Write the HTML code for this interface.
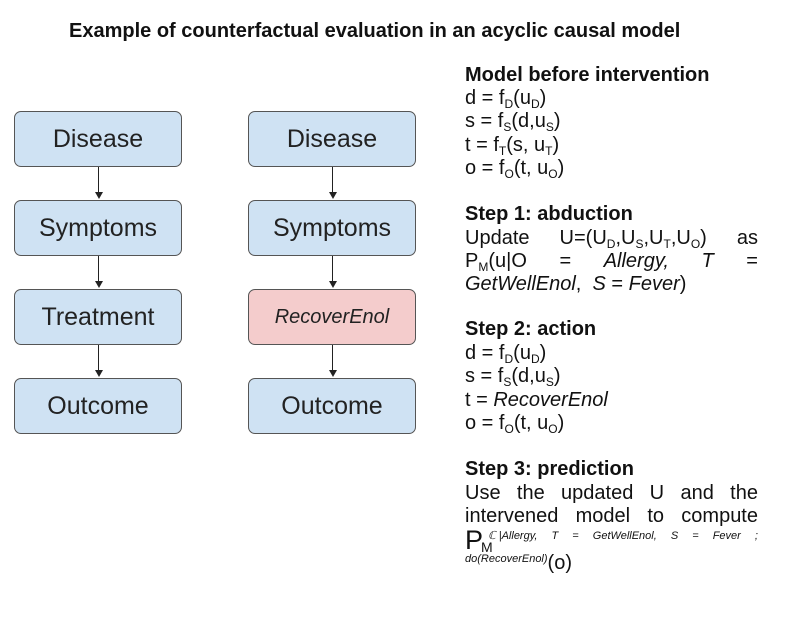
<!DOCTYPE html>
<html><head><style>
body{margin:0;width:799px;height:627px;background:#fff;position:relative;font-family:"Liberation Sans",sans-serif;color:#111;overflow:hidden}
.t{position:absolute;left:69px;top:20px;font-weight:bold;font-size:20px;white-space:nowrap}
.b{position:absolute;width:168px;height:56px;border:1.3px solid #555;border-radius:7px;background:#cfe2f3;box-sizing:border-box;display:flex;align-items:center;justify-content:center;font-size:25px;color:#222}
.r{background:#f4cccc;font-style:italic;font-size:20px}
.a{position:absolute;width:1px;background:#222}
.h{position:absolute;border-left:4px solid transparent;border-right:4px solid transparent;border-top:7px solid #222}
.l{position:absolute;left:465px;width:293px;font-size:20px;line-height:23px;white-space:nowrap}
.j{display:flex;justify-content:space-between}
.bd{font-weight:bold}
sub{font-size:12px;vertical-align:-4px;line-height:0}
i{font-style:italic}
.sm{font-size:11px;font-style:italic}
</style></head><body>
<div class="t">Example of counterfactual evaluation in an acyclic causal model</div>

<div class="b" style="left:14px;top:111px">Disease</div>
<div class="b" style="left:14px;top:200px">Symptoms</div>
<div class="b" style="left:14px;top:289px">Treatment</div>
<div class="b" style="left:14px;top:378px">Outcome</div>
<div class="b" style="left:248px;top:111px">Disease</div>
<div class="b" style="left:248px;top:200px">Symptoms</div>
<div class="b r" style="left:248px;top:289px">RecoverEnol</div>
<div class="b" style="left:248px;top:378px">Outcome</div>

<div class="a" style="left:98px;top:167px;height:26px"></div><div class="h" style="left:95px;top:192px"></div>
<div class="a" style="left:98px;top:256px;height:26px"></div><div class="h" style="left:95px;top:281px"></div>
<div class="a" style="left:98px;top:345px;height:26px"></div><div class="h" style="left:95px;top:370px"></div>
<div class="a" style="left:332px;top:167px;height:26px"></div><div class="h" style="left:329px;top:192px"></div>
<div class="a" style="left:332px;top:256px;height:26px"></div><div class="h" style="left:329px;top:281px"></div>
<div class="a" style="left:332px;top:345px;height:26px"></div><div class="h" style="left:329px;top:370px"></div>

<div class="l bd" style="top:64px">Model before intervention</div>
<div class="l" style="top:87px">d = f<sub>D</sub>(u<sub>D</sub>)</div>
<div class="l" style="top:110px">s = f<sub>S</sub>(d,u<sub>S</sub>)</div>
<div class="l" style="top:134px">t = f<sub>T</sub>(s, u<sub>T</sub>)</div>
<div class="l" style="top:157px">o = f<sub>O</sub>(t, u<sub>O</sub>)</div>

<div class="l bd" style="top:203px">Step 1: abduction</div>
<div class="l j" style="top:227px"><span>Update</span><span>U=(U<sub>D</sub>,U<sub>S</sub>,U<sub>T</sub>,U<sub>O</sub>)</span><span>as</span></div>
<div class="l j" style="top:250px"><span>P<sub>M</sub>(u|O</span><span>=</span><span><i>Allergy,</i></span><span><i>T</i></span><span>=</span></div>
<div class="l" style="top:273px"><i>GetWellEnol</i>,&nbsp; <i>S</i> = <i>Fever</i>)</div>

<div class="l bd" style="top:318px">Step 2: action</div>
<div class="l" style="top:342px">d = f<sub>D</sub>(u<sub>D</sub>)</div>
<div class="l" style="top:365px">s = f<sub>S</sub>(d,u<sub>S</sub>)</div>
<div class="l" style="top:389px">t = <i>RecoverEnol</i></div>
<div class="l" style="top:412px">o = f<sub>O</sub>(t, u<sub>O</sub>)</div>

<div class="l bd" style="top:458px">Step 3: prediction</div>
<div class="l j" style="top:482px"><span>Use</span><span>the</span><span>updated</span><span>U</span><span>and</span><span>the</span></div>
<div class="l j" style="top:505px"><span>intervened</span><span>model</span><span>to</span><span>compute</span></div>
<div class="l" style="top:527px;font-size:27px;line-height:27px">P</div>
<div class="l" style="top:540px;left:481px;font-size:14px;line-height:14px">M</div>
<div class="l j" style="top:525px;left:488px;width:270px;font-size:11px;font-style:italic"><span>&#x2102; |Allergy,</span><span>T</span><span>=</span><span>GetWellEnol,</span><span>S</span><span>=</span><span>Fever</span><span>;</span></div>
<div class="l sm" style="top:549px;line-height:14px">do(RecoverEnol)<span style="font-size:20px;font-style:normal;position:relative;top:7px">(o)</span></div>
</body></html>
